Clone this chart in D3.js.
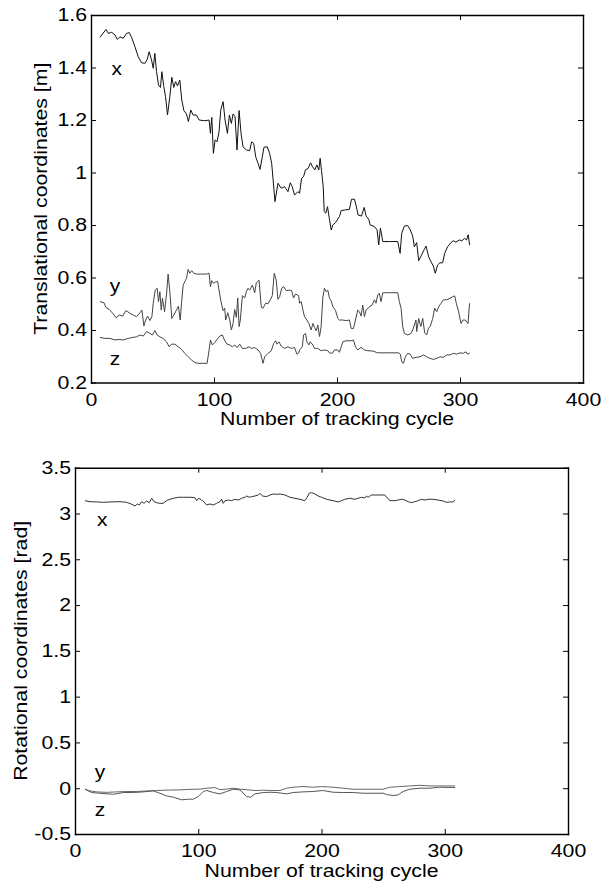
<!DOCTYPE html>
<html>
<head>
<meta charset="utf-8">
<script src="https://cdn.jsdelivr.net/npm/d3@7"></script>
<style>
  html, body { margin: 0; padding: 0; background: #fff; }
  svg { display: block; }
  text { font-family: "Liberation Sans", Arial, Helvetica, sans-serif; }
</style>
</head>
<body>
<svg id="chart" width="603" height="884"></svg>
<script>
"use strict";

/* ── Data: [tracking cycle, value] ─────────────────────────────────── */

const cycleTicks      = [0, 100, 200, 300, 400];
const cycleTickLabels = ["0", "100", "200", "300", "400"];

const transTicks      = [0.2, 0.4, 0.6, 0.8, 1.0, 1.2, 1.4, 1.6];
const transTickLabels = ["0.2", "0.4", "0.6", "0.8", "1", "1.2", "1.4", "1.6"];

const rotTicks      = [-0.5, 0, 0.5, 1, 1.5, 2, 2.5, 3, 3.5];
const rotTickLabels = ["-0.5", "0", "0.5", "1", "1.5", "2", "2.5", "3", "3.5"];

const transX = [
  [7.3,1.515],[12.2,1.545],[14.1,1.530],[16.8,1.534],[19.5,1.524],[21.4,1.507],[23.5,1.517],[26.2,1.511],
  [28.9,1.530],[31.1,1.533],[33.0,1.515],[35.7,1.479],[38.4,1.441],[41.1,1.418],[43.8,1.416],[45.7,1.431],
  [47.3,1.460],[49.2,1.429],[50.6,1.397],[51.9,1.454],[53.3,1.384],[54.9,1.333],[56.5,1.324],[57.6,1.384],
  [59.2,1.327],[60.6,1.289],[62.2,1.219],[64.1,1.289],[65.7,1.363],[67.3,1.324],[68.7,1.346],[70.3,1.330],
  [72.2,1.352],[73.8,1.276],[75.5,1.236],[77.6,1.223],[79.2,1.194],[81.1,1.238],[83.0,1.219],[85.7,1.219],
  [87.9,1.200],[92.5,1.197],[96.0,1.200],[97.1,1.149],[98.2,1.210],[99.5,1.073],[100.9,1.124],[102.5,1.117],
  [104.1,1.156],[105.5,1.238],[107.4,1.270],[109.0,1.200],[110.9,1.149],[112.5,1.219],[114.1,1.187],[115.5,1.223],
  [117.1,1.213],[118.7,1.086],[120.4,1.236],[122.0,1.149],[123.6,1.098],[126.3,1.086],[129.0,1.083],[130.6,1.117],
  [132.3,1.111],[133.9,1.060],[135.8,1.035],[137.4,1.012],[139.3,1.060],[140.6,1.096],[143.3,1.098],[145.2,1.073],
  [146.9,1.035],[149.6,0.889],[152.0,0.959],[154.7,0.940],[157.4,0.946],[160.1,0.927],[162.0,0.961],[163.6,0.946],
  [165.5,0.914],[168.2,0.927],[169.6,0.921],[171.2,0.978],[172.8,0.984],[174.4,1.010],[176.6,1.016],[178.5,1.037],
  [180.1,1.022],[182.0,1.010],[183.6,1.029],[185.2,1.010],[186.3,1.054],[187.4,1.007],[188.8,0.946],[189.6,0.851],
  [190.9,0.845],[192.3,0.870],[193.7,0.826],[195.3,0.781],[196.6,0.800],[198.8,0.809],[202.0,0.832],[203.4,0.855],
  [206.1,0.857],[210.1,0.860],[211.8,0.898],[214.2,0.898],[215.6,0.872],[217.2,0.838],[219.9,0.834],[222.1,0.867],
  [223.7,0.834],[225.8,0.822],[227.0,0.800],[230.4,0.794],[232.6,0.781],[233.9,0.724],[235.3,0.788],[237.2,0.737],
  [242.6,0.737],[249.4,0.737],[251.3,0.692],[252.6,0.768],[254.8,0.796],[257.5,0.798],[259.6,0.781],[261.5,0.758],
  [262.9,0.717],[264.8,0.733],[266.4,0.664],[268.3,0.682],[271.0,0.707],[272.4,0.720],[274.5,0.679],[276.4,0.660],
  [278.3,0.644],[279.9,0.616],[281.8,0.648],[283.7,0.656],[285.9,0.656],[287.5,0.692],[289.9,0.717],[292.7,0.733],
  [294.5,0.740],[296.7,0.735],[299.4,0.743],[301.5,0.740],[303.7,0.749],[305.3,0.743],[306.7,0.763],[307.8,0.723]
];

const transY = [
  [7.3,0.508],[10.5,0.504],[12.2,0.486],[14.9,0.478],[17.6,0.464],[20.3,0.447],[23.0,0.457],[25.7,0.453],
  [28.4,0.474],[31.6,0.464],[34.3,0.457],[37.1,0.451],[39.8,0.466],[41.4,0.476],[43.0,0.415],[44.4,0.438],
  [46.0,0.453],[47.9,0.436],[49.5,0.451],[50.6,0.502],[52.2,0.552],[53.8,0.559],[54.9,0.508],[56.0,0.546],
  [57.1,0.476],[58.1,0.521],[59.8,0.470],[61.4,0.537],[62.7,0.613],[64.1,0.546],[65.7,0.444],[67.3,0.457],
  [69.5,0.476],[71.1,0.491],[72.5,0.438],[73.6,0.502],[74.9,0.571],[76.3,0.584],[77.6,0.597],[79.0,0.631],
  [80.3,0.616],[81.9,0.626],[83.6,0.616],[85.7,0.613],[89.8,0.613],[93.8,0.613],[96.0,0.616],[97.1,0.565],
  [98.2,0.588],[99.8,0.578],[101.4,0.584],[103.0,0.584],[104.1,0.552],[105.7,0.508],[107.4,0.474],[108.7,0.483],
  [109.5,0.438],[111.2,0.466],[112.8,0.438],[114.1,0.400],[115.5,0.425],[116.8,0.478],[118.2,0.448],[119.3,0.522],
  [120.4,0.413],[121.4,0.438],[123.1,0.531],[125.0,0.522],[126.3,0.546],[127.7,0.559],[129.0,0.552],[131.2,0.571],
  [133.1,0.542],[134.4,0.580],[136.6,0.590],[138.5,0.486],[139.8,0.483],[142.0,0.502],[143.9,0.500],[145.8,0.515],
  [147.4,0.531],[149.0,0.616],[150.6,0.590],[152.0,0.517],[153.4,0.527],[155.0,0.559],[156.6,0.565],[158.8,0.550],
  [160.9,0.552],[163.1,0.550],[164.7,0.522],[166.3,0.537],[168.8,0.531],[169.6,0.502],[170.9,0.508],[172.3,0.476],
  [173.6,0.451],[175.5,0.438],[177.1,0.425],[179.0,0.400],[180.4,0.425],[181.7,0.410],[183.1,0.397],[184.4,0.419],
  [185.8,0.375],[187.1,0.413],[188.5,0.525],[189.8,0.559],[191.2,0.546],[192.5,0.552],[193.9,0.521],[195.2,0.512],
  [196.6,0.489],[198.8,0.474],[200.7,0.444],[202.0,0.438],[204.7,0.438],[207.4,0.436],[210.1,0.438],[211.5,0.406],
  [213.4,0.406],[215.0,0.438],[216.9,0.476],[218.2,0.470],[219.6,0.453],[220.9,0.495],[222.3,0.451],[223.6,0.476],
  [225.8,0.486],[228.5,0.495],[230.4,0.515],[231.7,0.502],[233.1,0.533],[234.4,0.540],[235.8,0.508],[237.2,0.542],
  [242.6,0.542],[249.4,0.542],[250.7,0.508],[252.1,0.483],[253.4,0.413],[254.8,0.387],[257.5,0.381],[260.2,0.387],
  [261.5,0.400],[262.9,0.419],[264.2,0.438],[264.8,0.394],[266.4,0.444],[268.1,0.413],[269.7,0.444],[271.3,0.389],
  [272.9,0.381],[274.3,0.406],[275.9,0.415],[277.8,0.444],[279.4,0.483],[281.1,0.470],[282.7,0.489],[284.6,0.502],
  [286.5,0.515],[289.2,0.515],[291.9,0.521],[294.1,0.527],[295.7,0.530],[297.0,0.502],[298.7,0.474],[300.8,0.425],
  [302.4,0.438],[304.3,0.438],[306.5,0.425],[307.8,0.502]
];

const transZ = [
  [7.3,0.372],[11.4,0.368],[15.4,0.368],[19.5,0.362],[22.2,0.364],[26.2,0.362],[30.3,0.368],[34.3,0.372],
  [37.1,0.374],[39.8,0.381],[42.5,0.377],[45.2,0.394],[47.9,0.387],[50.0,0.381],[51.9,0.398],[53.8,0.381],
  [56.0,0.374],[58.6,0.368],[61.4,0.355],[63.6,0.336],[65.4,0.346],[68.2,0.346],[70.9,0.336],[73.6,0.326],
  [76.3,0.311],[79.0,0.298],[81.7,0.286],[84.4,0.276],[87.1,0.273],[91.1,0.273],[94.4,0.273],[96.0,0.324],
  [97.1,0.362],[98.7,0.343],[100.6,0.352],[102.5,0.364],[104.7,0.377],[106.8,0.381],[108.5,0.362],[110.6,0.346],
  [112.8,0.343],[115.0,0.336],[116.8,0.343],[118.7,0.333],[120.9,0.346],[123.1,0.330],[125.8,0.330],[128.5,0.336],
  [130.4,0.330],[133.1,0.333],[135.8,0.324],[137.9,0.311],[139.8,0.273],[141.2,0.298],[143.9,0.311],[146.6,0.321],
  [148.5,0.349],[150.1,0.359],[151.2,0.346],[152.8,0.355],[154.7,0.338],[157.4,0.330],[160.1,0.336],[162.8,0.330],
  [165.5,0.333],[167.4,0.308],[169.0,0.313],[169.6,0.324],[171.8,0.336],[172.8,0.381],[174.4,0.387],[175.5,0.355],
  [177.1,0.343],[178.2,0.355],[180.4,0.343],[181.7,0.330],[184.4,0.330],[187.1,0.321],[189.8,0.324],[192.5,0.321],
  [193.9,0.313],[196.1,0.311],[198.0,0.324],[200.7,0.324],[202.0,0.315],[203.4,0.336],[204.7,0.355],[207.4,0.359],
  [211.5,0.359],[213.4,0.362],[215.0,0.336],[216.9,0.324],[219.6,0.334],[222.3,0.324],[225.0,0.321],[229.1,0.320],
  [233.1,0.313],[242.6,0.313],[250.2,0.313],[251.5,0.308],[252.6,0.279],[254.0,0.273],[255.6,0.298],[257.5,0.311],
  [259.4,0.308],[261.5,0.292],[264.2,0.296],[267.5,0.298],[270.2,0.305],[272.9,0.298],[275.6,0.292],[278.3,0.288],
  [281.1,0.292],[283.8,0.298],[286.5,0.296],[289.2,0.305],[291.9,0.305],[294.6,0.311],[297.3,0.308],[300.0,0.313],
  [302.7,0.311],[304.9,0.317],[306.2,0.308],[307.8,0.311]
];

const rotX = [
  [8.1,3.140],[12.2,3.129],[17.6,3.126],[23.0,3.122],[28.4,3.126],[36.5,3.129],[41.9,3.122],[46.0,3.101],
  [48.7,3.082],[50.6,3.104],[52.2,3.093],[54.1,3.129],[56.0,3.111],[58.1,3.136],[60.3,3.118],[62.2,3.166],
  [64.1,3.129],[66.2,3.118],[68.9,3.111],[71.6,3.111],[74.3,3.140],[77.0,3.155],[79.8,3.166],[83.8,3.177],
  [87.9,3.177],[93.3,3.177],[97.3,3.173],[98.7,3.140],[100.3,3.166],[102.7,3.147],[104.6,3.129],[106.8,3.093],
  [109.5,3.104],[112.2,3.093],[114.9,3.111],[117.6,3.129],[119.0,3.155],[120.3,3.111],[121.7,3.140],[124.4,3.147],
  [127.1,3.140],[129.8,3.155],[132.5,3.147],[135.2,3.166],[137.9,3.177],[139.2,3.191],[141.4,3.177],[143.3,3.184],
  [146.0,3.191],[148.7,3.202],[150.0,3.220],[152.2,3.191],[155.4,3.184],[158.2,3.202],[160.9,3.213],[163.6,3.209],
  [166.3,3.213],[170.3,3.202],[174.4,3.177],[178.4,3.166],[182.5,3.155],[186.5,3.140],[188.4,3.177],[190.0,3.220],
  [191.9,3.228],[194.6,3.213],[197.3,3.191],[200.0,3.177],[204.1,3.155],[209.5,3.140],[213.5,3.126],[216.2,3.140],
  [218.9,3.155],[223.0,3.166],[227.0,3.155],[229.7,3.166],[232.4,3.177],[235.1,3.169],[236.5,3.191],[237.8,3.177],
  [240.5,3.202],[245.9,3.202],[251.3,3.202],[252.7,3.177],[254.0,3.166],[255.4,3.140],[259.5,3.140],[262.2,3.147],
  [264.9,3.155],[267.6,3.147],[270.3,3.129],[273.0,3.118],[275.7,3.129],[278.4,3.140],[281.1,3.155],[283.8,3.147],
  [286.5,3.155],[290.6,3.155],[294.6,3.147],[298.7,3.136],[301.4,3.122],[304.1,3.126],[306.8,3.126],[308.4,3.147]
];

const rotY = [
  [8.1,-0.011],[12.2,-0.030],[17.6,-0.040],[25.7,-0.045],[33.8,-0.040],[41.9,-0.036],[50.0,-0.036],[58.1,-0.030],
  [66.2,-0.025],[77.0,-0.020],[85.2,-0.018],[93.3,-0.012],[101.4,-0.010],[106.8,0.000],[113.5,0.007],[117.6,-0.015],
  [123.0,-0.010],[128.4,0.000],[133.8,-0.010],[140.6,-0.018],[146.0,-0.025],[152.7,-0.022],[160.9,-0.025],[166.3,-0.025],
  [171.7,0.000],[177.0,0.011],[185.0,0.018],[193.0,0.011],[201.0,0.018],[209.5,0.011],[217.6,0.000],[225.7,-0.011],
  [233.8,-0.011],[241.9,-0.011],[250.0,-0.011],[255.4,0.011],[263.5,0.018],[271.6,0.025],[279.8,0.032],[287.9,0.025],
  [296.0,0.025],[308.4,0.025]
];

const rotZ = [
  [8.1,-0.011],[13.5,-0.047],[20.3,-0.055],[31.1,-0.066],[39.2,-0.047],[47.3,-0.047],[55.4,-0.040],[63.5,-0.029],
  [68.9,-0.055],[74.3,-0.084],[79.8,-0.098],[86.5,-0.127],[91.9,-0.120],[96.0,-0.120],[100.0,-0.091],[104.1,-0.036],
  [106.8,-0.025],[112.2,-0.047],[117.6,-0.062],[123.0,-0.036],[128.4,-0.011],[133.8,-0.018],[139.2,-0.091],[142.5,-0.098],
  [146.0,-0.062],[152.7,-0.047],[158.2,-0.044],[163.6,-0.047],[171.7,-0.062],[177.0,-0.047],[185.0,-0.040],[193.0,-0.036],
  [201.0,-0.025],[209.5,-0.044],[217.6,-0.047],[225.7,-0.047],[233.8,-0.055],[241.9,-0.055],[250.0,-0.055],[252.7,-0.069],
  [258.0,-0.080],[262.2,-0.073],[266.2,-0.036],[271.6,-0.011],[279.8,0.000],[287.9,0.000],[296.0,0.011],[308.4,0.007]
];

/* In-plot curve labels: [text, cycle, value] */
const transLabels = [["x", 21, 1.39], ["y", 19.5, 0.564], ["z", 19.5, 0.286]];
const rotLabels   = [["x", 22, 2.92], ["y", 20.3, 0.17], ["z", 20.3, -0.25]];

/* ── Layout ────────────────────────────────────────────────────────── */

const FONT  = 18.5;
const WIDEN = 1.15;   // the original glyphs are a bit wider than Arial
const TICK  = 5;

const panels = [
  {
    left: 91, right: 583, top: 15, bottom: 382.5,
    yDomain: [0.2, 1.6], yTicks: transTicks, yTickLabels: transTickLabels,
    yTitle: "Translational coordinates [m]", yTitleX: 47, xTitleY: 425,
    series: [
      { data: transX, color: "#111" },
      { data: transY, color: "#444" },
      { data: transZ, color: "#444" }
    ],
    labels: transLabels
  },
  {
    left: 75, right: 568, top: 467.7, bottom: 834,
    yDomain: [-0.5, 3.5], yTicks: rotTicks, yTickLabels: rotTickLabels,
    yTitle: "Rotational coordinates [rad]", yTitleX: 27, xTitleY: 877,
    series: [
      { data: rotX, color: "#333" },
      { data: rotY, color: "#666" },
      { data: rotZ, color: "#555" }
    ],
    labels: rotLabels
  }
];

const svg = d3.select("#chart");

panels.forEach(drawPanel);

function drawPanel(p) {
  const g = svg.append("g");
  const x = d3.scaleLinear().domain([0, 400]).range([p.left, p.right]);
  const y = d3.scaleLinear().domain(p.yDomain).range([p.bottom, p.top]);

  /* curves first, box on top */
  const line = d3.line().x(d => x(d[0])).y(d => y(d[1]));
  p.series.forEach(function (s) {
    g.append("path")
      .datum(s.data)
      .attr("fill", "none")
      .attr("stroke", s.color)
      .attr("stroke-width", 1)
      .attr("stroke-linejoin", "round")
      .attr("d", line);
  });

  /* MATLAB-style box: inward ticks on all four sides, labels left/bottom */
  const axes = [
    { a: d3.axisBottom(x).tickValues(cycleTicks).tickFormat((d, i) => cycleTickLabels[i]).tickPadding(10),
      t: "translate(0," + p.bottom + ")" },
    { a: d3.axisTop(x).tickValues(cycleTicks).tickFormat(""),
      t: "translate(0," + p.top + ")" },
    { a: d3.axisLeft(y).tickValues(p.yTicks).tickFormat((d, i) => p.yTickLabels[i]).tickPadding(3.5),
      t: "translate(" + p.left + ",0)" },
    { a: d3.axisRight(y).tickValues(p.yTicks).tickFormat(""),
      t: "translate(" + p.right + ",0)" }
  ];
  axes.forEach(function (ax) {
    const ag = g.append("g")
      .attr("transform", ax.t)
      .style("color", "#000")
      .call(ax.a.tickSizeInner(-TICK).tickSizeOuter(0));
    ag.select(".domain").attr("stroke-width", 1.4).attr("stroke-linecap", "square");
    ag.selectAll(".tick line").attr("stroke-width", 1);
    ag.selectAll(".tick text")
      .attr("font-size", FONT)
      .attr("font-family", null)
      .attr("transform", "scale(" + WIDEN + ",1)");
  });

  /* axis titles */
  g.append("text")
    .attr("text-anchor", "middle")
    .attr("font-size", FONT)
    .attr("transform", "translate(" + ((p.left + p.right) / 2) + "," + p.xTitleY + ") scale(" + WIDEN + ",1)")
    .text("Number of tracking cycle");

  g.append("text")
    .attr("text-anchor", "middle")
    .attr("font-size", FONT)
    .attr("transform", "translate(" + p.yTitleX + "," + ((p.top + p.bottom) / 2) + ") rotate(-90) scale(" + WIDEN + ",1)")
    .text(p.yTitle);

  /* curve labels */
  g.selectAll(".curve-label")
    .data(p.labels)
    .enter()
    .append("text")
    .attr("class", "curve-label")
    .attr("text-anchor", "middle")
    .attr("font-size", 19)
    .attr("dy", "0.26em")
    .attr("transform", d => "translate(" + x(d[1]) + "," + y(d[2]) + ") scale(1.1,1)")
    .text(d => d[0]);
}
</script>
</body>
</html>
